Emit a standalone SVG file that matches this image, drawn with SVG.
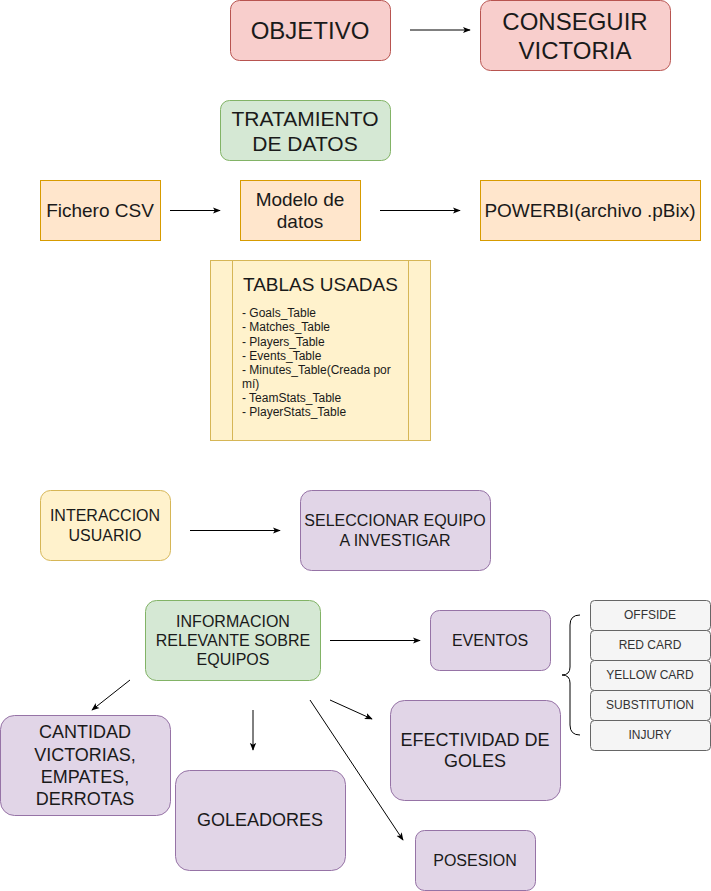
<svg xmlns="http://www.w3.org/2000/svg" width="711" height="891" viewBox="0 0 711 891">
<style>
text{font-family:"Liberation Sans",Arial,sans-serif;fill:#1a1a1a;text-anchor:middle;dominant-baseline:central}
.red{fill:#f8cecc;stroke:#b85450}
.green{fill:#d5e8d4;stroke:#82b366}
.orange{fill:#ffe6cc;stroke:#d79b00}
.yellow{fill:#fff2cc;stroke:#d6b656}
.purple{fill:#e1d5e7;stroke:#9673a6}
.grey{fill:#f5f5f5;stroke:#666666}
.grey-t{fill:#333333;font-size:12px}
.edge{stroke:#000;stroke-width:1;fill:none;marker-end:url(#arr)}
.t24{font-size:24px}.t21{font-size:21px}.t19{font-size:19px}.t18{font-size:18px}.t16{font-size:16px}.t12{font-size:12px;text-anchor:start}
</style>
<defs>
<marker id="arr" viewBox="0 0 10 10" refX="9" refY="5" markerWidth="8" markerHeight="8" orient="auto" markerUnits="userSpaceOnUse">
<path d="M0,1 L10,5 L0,9 L2.5,5 Z" fill="#000"/>
</marker>
</defs>
<g id="objetivo"><rect class="red" x="230.5" y="0.5" width="160" height="60" rx="9"/><text class="t24" x="310" y="30">OBJETIVO</text></g>
<g id="conseguir"><rect class="red" x="480.5" y="0.5" width="190" height="70" rx="10"/><text class="t24" x="575" y="21">CONSEGUIR</text><text class="t24" x="575" y="50">VICTORIA</text></g>
<g id="tratamiento"><rect class="green" x="220.5" y="100.5" width="170" height="60" rx="9"/><text class="t21" x="305" y="118">TRATAMIENTO</text><text class="t21" x="305" y="143">DE DATOS</text></g>
<g id="csv"><rect class="orange" x="40.5" y="180.5" width="120" height="60"/><text class="t19" x="100" y="210">Fichero CSV</text></g>
<g id="modelo"><rect class="orange" x="240.5" y="180.5" width="120" height="60"/><text class="t19" x="300" y="199">Modelo de</text><text class="t19" x="300" y="221">datos</text></g>
<g id="powerbi"><rect class="orange" x="480.5" y="180.5" width="220" height="60"/><text class="t19" x="590" y="210">POWERBI(archivo .pBix)</text></g>
<g id="tablas"><rect class="yellow" x="210.5" y="260.5" width="220" height="180"/><line x1="232.5" y1="260.5" x2="232.5" y2="440.5" stroke="#d6b656"/><line x1="408.5" y1="260.5" x2="408.5" y2="440.5" stroke="#d6b656"/>
<text class="t19" x="243" y="284" style="text-anchor:start">TABLAS USADAS</text>
<text class="t12" x="242" y="313">- Goals_Table</text>
<text class="t12" x="242" y="327">- Matches_Table</text>
<text class="t12" x="242" y="342">- Players_Table</text>
<text class="t12" x="242" y="356">- Events_Table</text>
<text class="t12" x="242" y="370">- Minutes_Table(Creada por</text>
<text class="t12" x="242" y="384">mí)</text>
<text class="t12" x="242" y="398">- TeamStats_Table</text>
<text class="t12" x="242" y="412">- PlayerStats_Table</text>
</g>
<g id="interaccion"><rect class="yellow" x="40.5" y="490.5" width="130" height="70" rx="10"/><text class="t16" x="105" y="515">INTERACCION</text><text class="t16" x="105" y="535">USUARIO</text></g>
<g id="seleccionar"><rect class="purple" x="300.5" y="490.5" width="190" height="80" rx="11"/><text class="t16" x="395" y="520">SELECCIONAR EQUIPO</text><text class="t16" x="395" y="540">A INVESTIGAR</text></g>
<g id="informacion"><rect class="green" x="145.5" y="600.5" width="175" height="80" rx="11"/><text class="t16" x="233" y="621">INFORMACION</text><text class="t16" x="233" y="640">RELEVANTE SOBRE</text><text class="t16" x="233" y="659">EQUIPOS</text></g>
<g id="eventos"><rect class="purple" x="430.5" y="610.5" width="120" height="60" rx="9"/><text class="t16" x="490" y="640">EVENTOS</text></g>
<g id="brace"><path d="M580,615 Q570,615 570,625 L570,667 Q570,675 562,675 Q570,675 570,683 L570,725 Q570,735 580,735" fill="none" stroke="#000"/></g>
<g id="offside"><rect class="grey" x="590.5" y="600.5" width="120" height="30" rx="4"/><text class="grey-t" x="650" y="615">OFFSIDE</text></g>
<g id="redcard"><rect class="grey" x="590.5" y="630.5" width="120" height="30" rx="4"/><text class="grey-t" x="650" y="645">RED CARD</text></g>
<g id="yellowcard"><rect class="grey" x="590.5" y="660.5" width="120" height="30" rx="4"/><text class="grey-t" x="650" y="675">YELLOW CARD</text></g>
<g id="substitution"><rect class="grey" x="590.5" y="690.5" width="120" height="30" rx="4"/><text class="grey-t" x="650" y="705">SUBSTITUTION</text></g>
<g id="injury"><rect class="grey" x="590.5" y="720.5" width="120" height="30" rx="4"/><text class="grey-t" x="650" y="735">INJURY</text></g>
<g id="cantidad"><rect class="purple" x="0.5" y="715.5" width="170" height="100" rx="14"/><text class="t18" x="85" y="732">CANTIDAD</text><text class="t18" x="85" y="755">VICTORIAS,</text><text class="t18" x="85" y="777">EMPATES,</text><text class="t18" x="85" y="799">DERROTAS</text></g>
<g id="goleadores"><rect class="purple" x="175.5" y="770.5" width="170" height="100" rx="14"/><text class="t18" x="260" y="820">GOLEADORES</text></g>
<g id="efectividad"><rect class="purple" x="390.5" y="700.5" width="170" height="100" rx="14"/><text class="t18" x="475" y="740">EFECTIVIDAD DE</text><text class="t18" x="475" y="761">GOLES</text></g>
<g id="posesion"><rect class="purple" x="415.5" y="830.5" width="120" height="60" rx="9"/><text class="t16" x="475" y="860">POSESION</text></g>
<g id="connectors">
<line class="edge" x1="410" y1="30" x2="470" y2="30"/>
<line class="edge" x1="170" y1="210.5" x2="220" y2="210.5"/>
<line class="edge" x1="380" y1="210.5" x2="460" y2="210.5"/>
<line class="edge" x1="190" y1="530.5" x2="280" y2="530.5"/>
<line class="edge" x1="330" y1="640.5" x2="420" y2="640.5"/>
<line class="edge" x1="130" y1="680" x2="92" y2="710"/>
<line class="edge" x1="253" y1="710" x2="253" y2="750"/>
<line class="edge" x1="330" y1="700" x2="372" y2="719"/>
<line class="edge" x1="310" y1="700" x2="403" y2="840"/>
</g>
</svg>
